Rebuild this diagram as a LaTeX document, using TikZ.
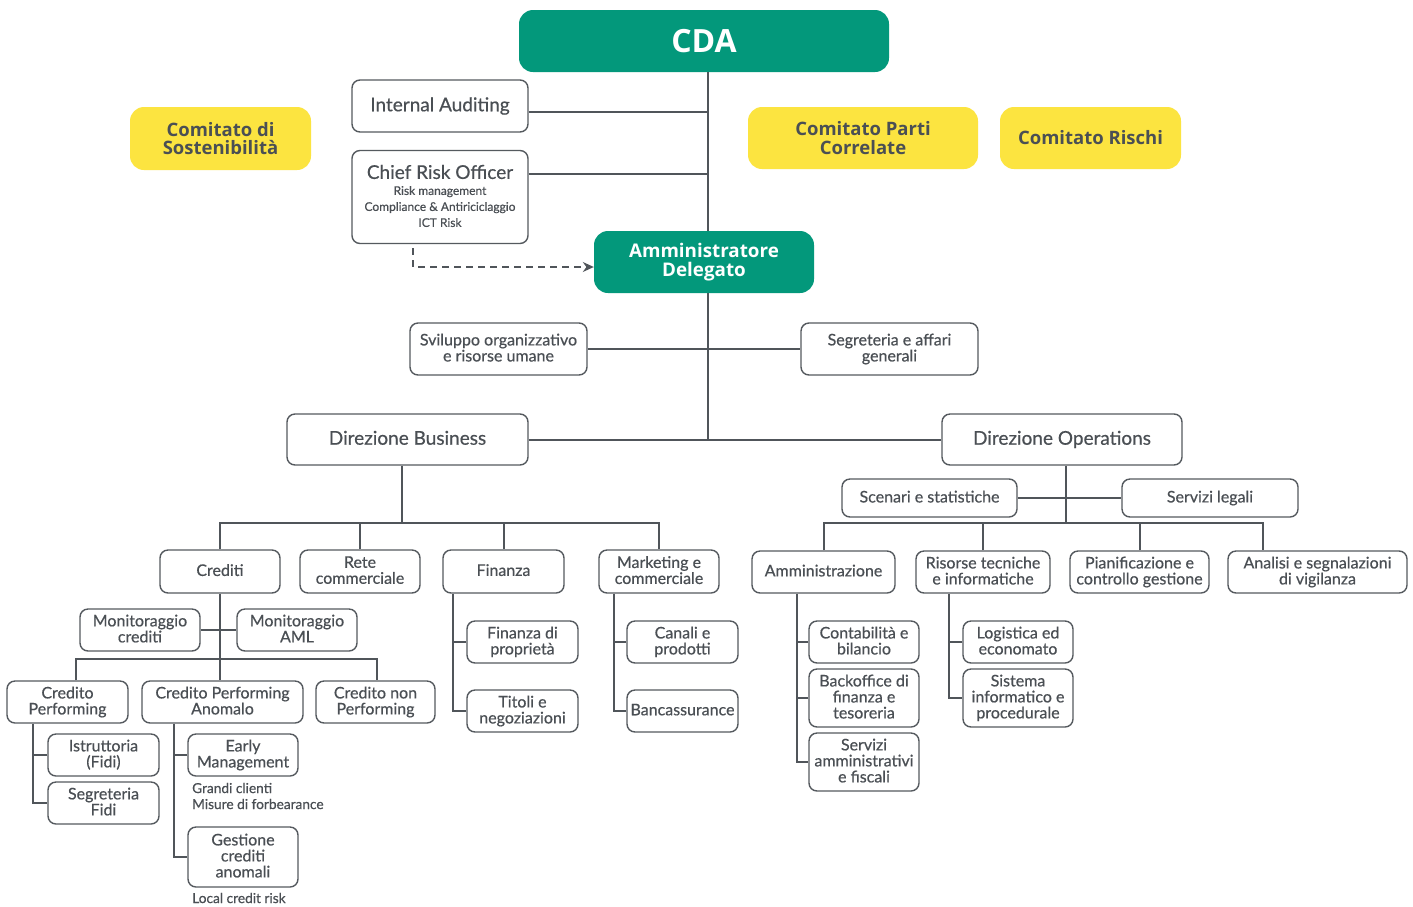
\documentclass[tikz,border=0pt]{standalone}
\usepackage{fontspec}
\setmainfont{Lato}[RawFeature={embolden=0.5}]
\newfontfamily\opensans{Open Sans}
\usetikzlibrary{arrows.meta}

\definecolor{cdagreen}{RGB}{3,152,123}
\definecolor{comyellow}{RGB}{252,228,64}
\definecolor{txtgray}{RGB}{74,79,84}
\definecolor{boxgray}{RGB}{85,90,95}
\definecolor{linegray}{RGB}{80,85,90}

\tikzset{
  wh/.style 2 args={minimum width=#1pt, minimum height=#2pt},
  box/.style={draw=boxgray, line width=1.4pt, rounded corners=8pt, fill=white,
    align=center, inner sep=0pt, text=txtgray, font=\fontsize{16}{16}\selectfont,
    execute at begin node=\vphantom{Ag}, execute at end node=\vphantom{g}},
  headbox/.style={box, font=\fontsize{19}{20}\selectfont},
  greenbox/.style={fill=cdagreen, rounded corners=14pt, inner sep=0pt, text=white,
    align=center, font=\opensans\bfseries\fontsize{18.8}{19}\selectfont},
  comitato/.style={fill=comyellow, rounded corners=14pt, inner sep=0pt, text=txtgray,
    align=center, font=\opensans\bfseries\fontsize{18.5}{18.5}\selectfont},
  link/.style={draw=linegray, line width=2pt},
  note/.style={anchor=base west, inner sep=0pt, text=txtgray, font=\fontsize{13.7}{16}\selectfont}
}

\begin{document}
\begin{tikzpicture}[x=1pt, y=-1pt, >=Stealth]

  \useasboundingbox (0,0) rectangle (1413,906);
  \fill[white] (0,0) rectangle (1413,906);

%%%%%%%%%%%%%%%%%%%%%%%%%%%%%%%%%%%%%%%%%%
  % Vertice
  \node[greenbox, wh={370}{62}, font=\opensans\bfseries\fontsize{32}{32}\selectfont] (cda) at (704,41) {CDA};
  \node[headbox, wh={176}{52}] (ia) at (440,106) {Internal Auditing};
  \node[box, wh={176}{93}, font=\fontsize{12}{16}\selectfont] (cro) at (440,197)
    {{\fontsize{19}{19}\selectfont Chief Risk Officer}\\
     Risk management\\ Compliance \& Antiriciclaggio\\ ICT Risk};

  % Comitati
  \node[comitato, wh={181}{63}] (csost) at (220.5,138.5) {Comitato di\\Sostenibilità};
  \node[comitato, wh={230}{62}] (cpc) at (863,138) {Comitato Parti\\Correlate};
  \node[comitato, wh={181}{62}] (cris) at (1090.5,138) {Comitato Rischi};

  \node[greenbox, wh={220}{62}] (ad) at (704,262) {Amministratore\\Delegato};

  \node[box, wh={177}{52}] (svil) at (498.5,349) {Sviluppo organizzativo\\e risorse umane};
  \node[box, wh={177}{52}] (segr) at (889.5,349) {Segreteria e affari\\generali};

  \node[headbox, wh={241}{51}] (dirB) at (407.5,439.5) {Direzione Business};
  \node[headbox, wh={240}{51}] (dirO) at (1062,439.5) {Direzione Operations};

  % Linee di vertice
  \coordinate (spine) at (708,440);
  \draw[link] (cda.south -| spine) -- (ad.north -| spine);
  \draw[link] (ad.south -| spine) -- (spine);
  \draw[link] ([yshift=-6pt]ia.east) -- ([yshift=-6pt]ia.east -| spine);
  \draw[link] ([yshift=23pt]cro.east) -- ([yshift=23pt]cro.east -| spine);
  \draw[link] (svil.east) -- (segr.west);
  \draw[link] (dirB.east) -- (dirO.west);

  \coordinate (croTap) at (413,248);
  \draw[dashed, dash pattern=on 7pt off 5pt, line width=1.4pt, draw=linegray, -{Stealth[length=11pt, width=10pt]}]
    (croTap) |- ([yshift=-5pt]ad.west);

%%%%%%%%%%%%%%%%%%%%%%%%%%%%%%%%%%%%%%%%%%
  % Direzione Business
  \node[box, wh={120}{43}] (crediti) at (220,571.5) {Crediti};
  \node[box, wh={120}{43}] (rete) at (360,571.5) {Rete\\commerciale};
  \node[box, wh={121}{43}] (finanza) at (503.5,571.5) {Finanza};
  \node[box, wh={120}{43}] (mkt) at (659,571.5) {Marketing e\\commerciale};

  \node[box, wh={120}{42}] (moncr) at (140,630) {Monitoraggio\\crediti};
  \node[box, wh={120}{42}] (monaml) at (297,630) {Monitoraggio\\AML};

  \node[box, wh={121}{42}] (crperf) at (67.5,702) {Credito\\Performing};
  \node[box, wh={161}{42}] (cpa) at (222.5,702) {Credito Performing\\Anomalo};
  \node[box, wh={119}{42}] (cnp) at (375.5,702) {Credito non\\Performing};

  \node[box, wh={111}{42}] (istr) at (103.5,755) {Istruttoria\\(Fidi)};
  \node[box, wh={111}{42}] (segfidi) at (103.5,803) {Segreteria\\Fidi};

  \node[box, wh={110}{42}] (early) at (243,755) {Early\\Management};
  \node[note] (noteA) at (192,793) {Grandi clienti};
  \node[note] (noteB) at (192,809) {Misure di forbearance};
  \node[box, wh={110}{60}] (gest) at (243,857) {Gestione\\crediti\\anomali};
  \node[note] (noteC) at (192,903) {Local credit risk};

  \node[box, wh={111}{42}] (finprop) at (522.5,642) {Finanza di\\proprietà};
  \node[box, wh={111}{42}] (titoli) at (522.5,711) {Titoli e\\negoziazioni};
  \node[box, wh={111}{42}] (canali) at (682.5,642) {Canali e\\prodotti};
  \node[box, wh={111}{42}] (banca) at (682.5,711) {Bancassurance};

  % Collegamenti Business
  \coordinate (busB) at (402,523);
  \draw[link] (dirB.south -| busB) -- (busB);
  \draw[link] (crediti.north) |- (mkt.north |- busB) -- (mkt.north);
  \draw[link] (rete.north) -- (rete.north |- busB);
  \draw[link] (finanza.north) -- (finanza.north |- busB);

  \coordinate (busC) at (220,659);
  \coordinate (busCl) at (76,659);
  \coordinate (busCr) at (377,659);
  \draw[link] (crediti.south) -- (busC);
  \draw[link] (moncr.east) -- (monaml.west);
  \draw[link] (busCl |- crperf.north) -- (busCl) -- (busCr) -- (busCr |- cnp.north);
  \draw[link] (busC) -- (busC |- cpa.north);

  \coordinate (cpv) at (33,803);
  \draw[link] (cpv |- crperf.south) |- (segfidi.west);
  \draw[link] (istr.west) -- (istr.west -| cpv);

  \coordinate (cpav) at (174,857);
  \draw[link] (cpav |- cpa.south) |- (gest.west);
  \draw[link] (early.west) -- (early.west -| cpav);

  \coordinate (finv) at (453,711);
  \draw[link] (finv |- finanza.south) |- (titoli.west);
  \draw[link] (finprop.west) -- (finprop.west -| finv);

  \coordinate (mktv) at (614,711);
  \draw[link] (mktv |- mkt.south) |- (banca.west);
  \draw[link] (canali.west) -- (canali.west -| mktv);

%%%%%%%%%%%%%%%%%%%%%%%%%%%%%%%%%%%%%%%%%%
  % Direzione Operations
  \node[box, wh={175}{38}] (scen) at (929.5,498) {Scenari e statistiche};
  \node[box, wh={176}{38}] (servleg) at (1210,498) {Servizi legali};

  \node[box, wh={143}{42}] (amm) at (823.5,572) {Amministrazione};
  \node[box, wh={134}{42}] (ris) at (983,572) {Risorse tecniche\\e informatiche};
  \node[box, wh={139}{42}] (pian) at (1139.5,572) {Pianificazione e\\controllo gestione};
  \node[box, wh={179}{42}] (anal) at (1317.5,572) {Analisi e segnalazioni\\di vigilanza};

  \node[box, wh={110}{42}] (conta) at (864,642) {Contabilità e\\bilancio};
  \node[box, wh={110}{58}] (back) at (864,698) {Backoffice di\\finanza e\\tesoreria};
  \node[box, wh={110}{58}] (servamm) at (864,762) {Servizi\\amministrativi\\e fiscali};

  \node[box, wh={110}{42}] (logi) at (1018,642) {Logistica ed\\economato};
  \node[box, wh={110}{58}] (sist) at (1018,698) {Sistema\\informatico e\\procedurale};

  % Collegamenti Operations
  \coordinate (busO) at (1066,523);
  \coordinate (busOr) at (1263,523);
  \draw[link] (dirO.south -| busO) -- (busO);
  \draw[link] (scen.east) -- (servleg.west);
  \draw[link] (amm.north) |- (busOr) -- (busOr |- anal.north);
  \draw[link] (ris.north) -- (ris.north |- busO);
  \draw[link] (pian.north) -- (pian.north |- busO);

  \coordinate (ammv) at (797,762);
  \draw[link] (ammv |- amm.south) |- (servamm.west);
  \draw[link] (conta.west) -- (conta.west -| ammv);
  \draw[link] (back.west) -- (back.west -| ammv);

  \coordinate (risv) at (949,698);
  \draw[link] (risv |- ris.south) |- (sist.west);
  \draw[link] (logi.west) -- (logi.west -| risv);

\end{tikzpicture}
\end{document}
